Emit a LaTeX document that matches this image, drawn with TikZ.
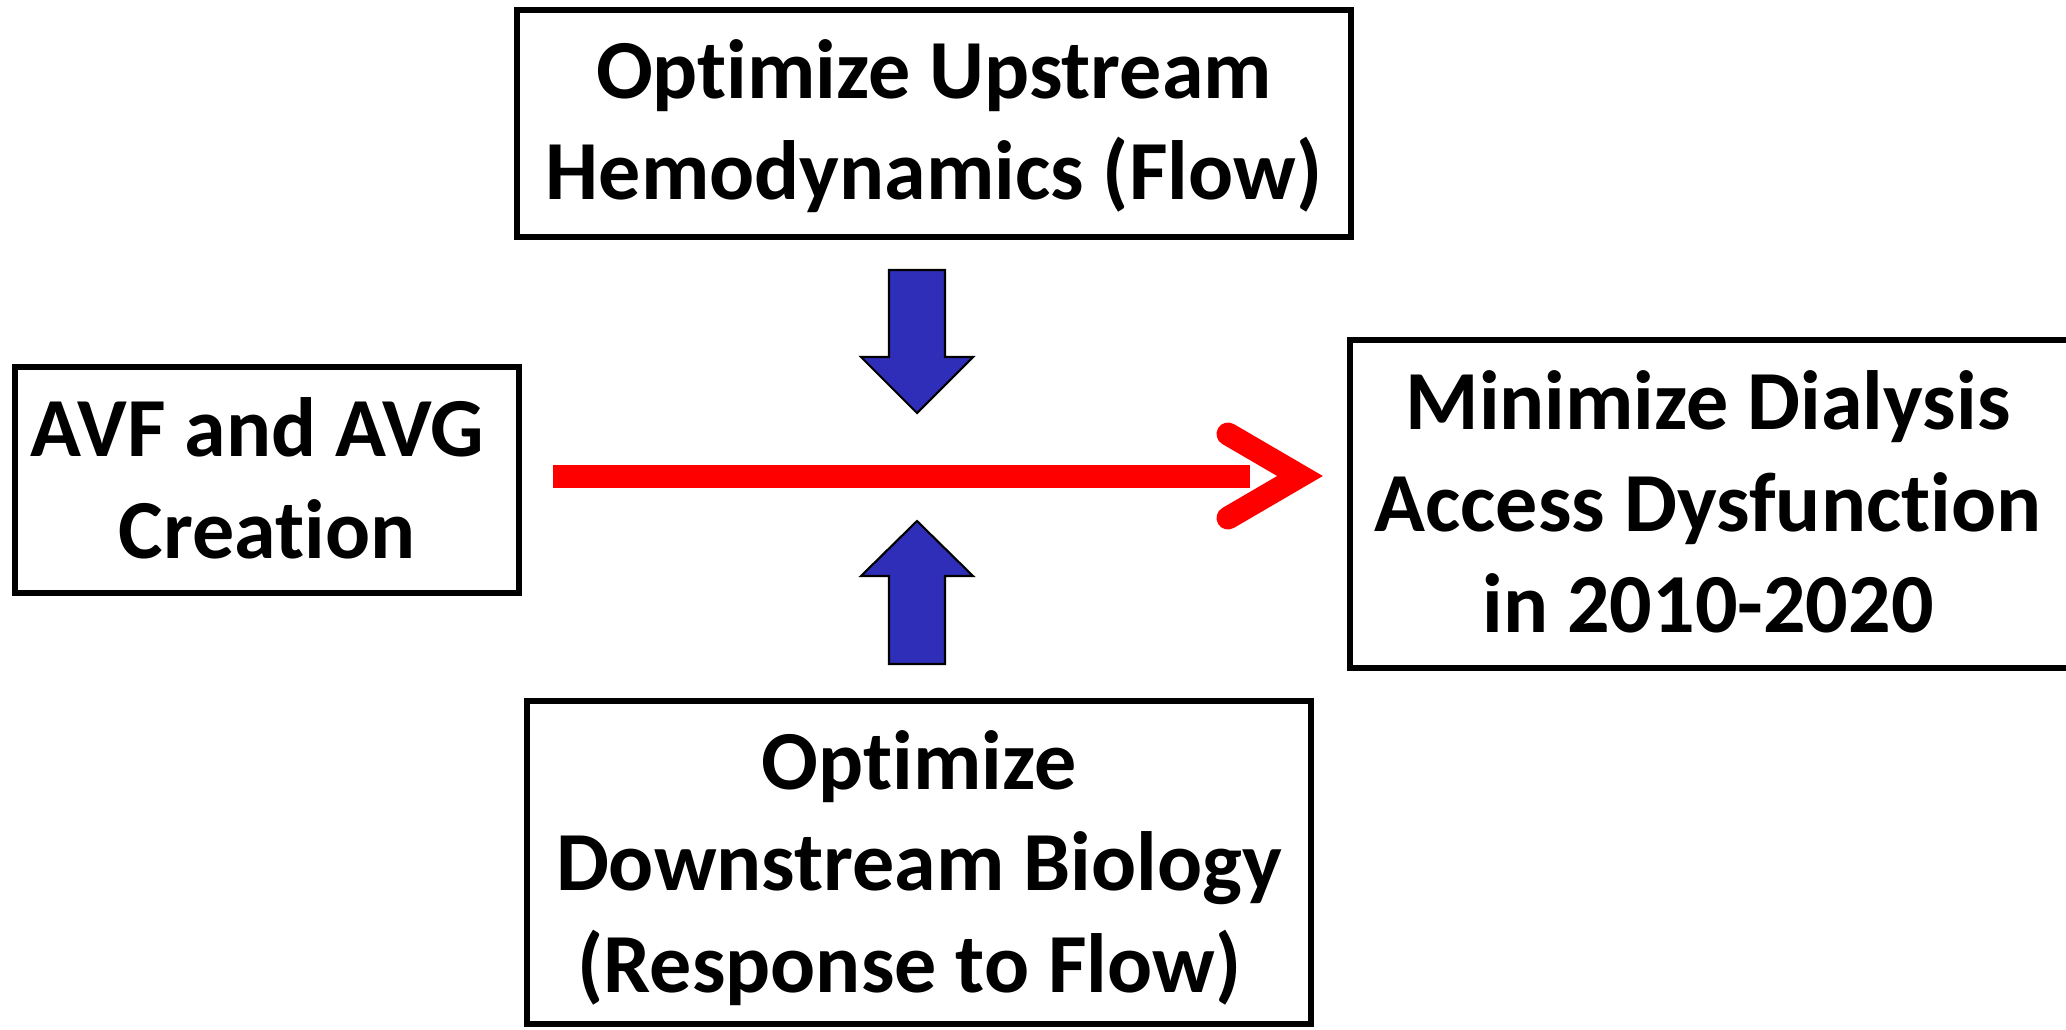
\documentclass[tikz,border=0pt]{standalone}
\usepackage{fontspec}
\setmainfont{Carlito}[RawFeature={-liga;-clig;-calt;-dlig}]
\definecolor{arrowblue}{RGB}{46,46,184}
\begin{document}
\begin{tikzpicture}[x=0.01cm,y=-0.01cm,
  box/.style={draw=black,line width=1.7pt,fill=white,inner sep=0pt,rectangle},
  txt/.style={align=center,font=\fontsize{23.9pt}{28.9pt}\selectfont\bfseries,inner sep=0pt},
  bluearrow/.style={fill=arrowblue,draw=black,line width=0.6pt,line join=miter},
  redline/.style={draw=red,line width=0.23cm},
  redhead/.style={draw=red,line width=0.23cm,line cap=round,line join=miter}]
\useasboundingbox (0,0) rectangle (2066,1030);
\fill[white] (0,0) rectangle (2066,1030);
% boxes
\node[box,minimum width=8.34cm,minimum height=2.27cm] (up) at (934,123.5) {};
\node[txt] (uptext) at (934,126) {Optimize Upstream\\Hemodynamics (Flow)};
\node[box,minimum width=5.04cm,minimum height=2.26cm] (avf) at (267,480) {};
\node[txt] (avftext) at (267,478) {AVF and AVG\hspace*{0.23em}\\Creation};
\node[box,minimum width=7.40cm,minimum height=3.28cm] (min) at (1720,504) {};
\node[txt] (mintext) at (1708,502) {Minimize Dialysis\\Access Dysfunction\hspace*{0.23em}\\in 2010-2020};
\node[box,minimum width=7.84cm,minimum height=3.23cm] (down) at (919,862.5) {};
\node[txt] (downtext) at (919,868) {Optimize\\Downstream Biology\\(Response to Flow)\hspace*{0.23em}};
% red arrow
\coordinate (rs) at (553,476);
\coordinate (rtip) at (1300,476);
\draw[redline] (rs) -- (1250,476);
\draw[redhead] (1228,434) -- (rtip) -- (1228,518);
% blue arrows
\draw[bluearrow] (889,270) -- (945,270) -- (945,357) -- (973,357) -- (917,413) -- (861,357) -- (889,357) -- cycle;
\draw[bluearrow] (889,664) -- (945,664) -- (945,576) -- (973,576) -- (917,521) -- (861,576) -- (889,576) -- cycle;
\end{tikzpicture}
\end{document}
